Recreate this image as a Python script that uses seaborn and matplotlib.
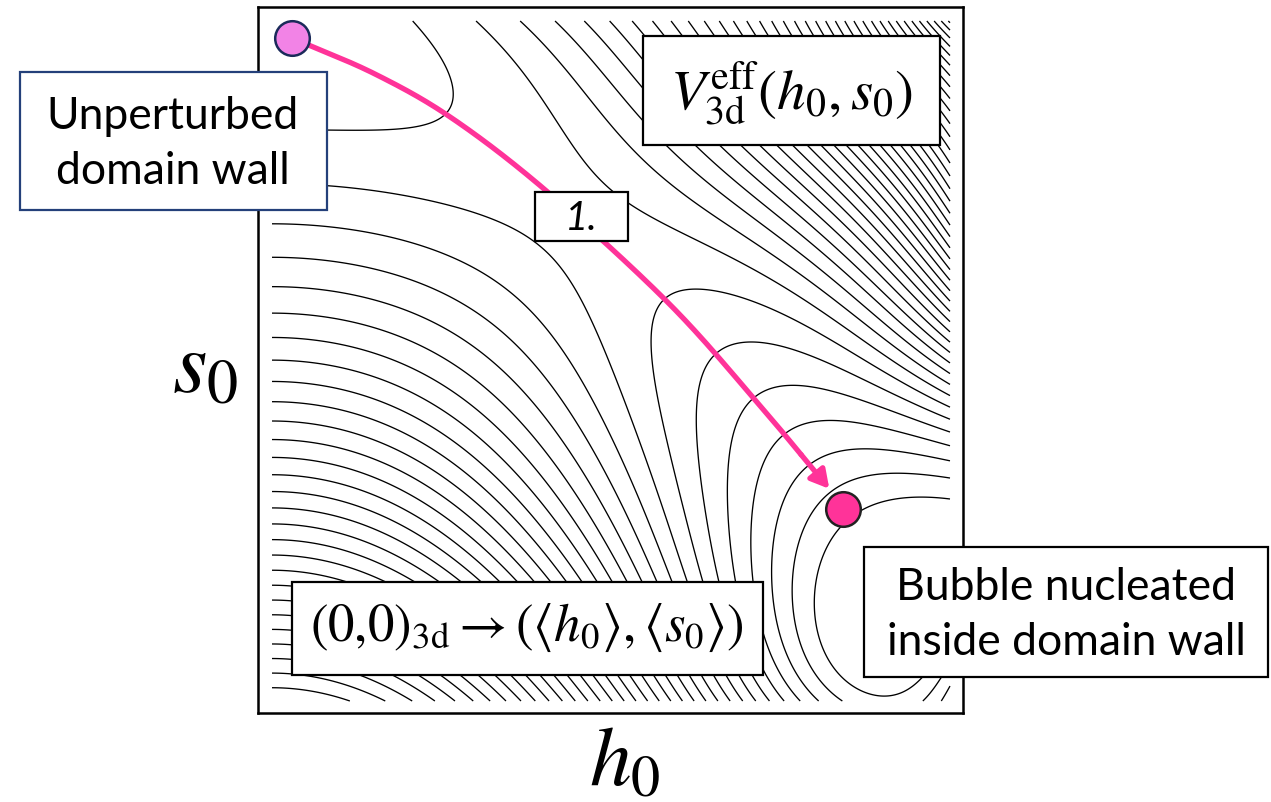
import numpy as np
import pandas as pd
import matplotlib
matplotlib.use("Agg")
import matplotlib.pyplot as plt
import seaborn as sns
from matplotlib.patches import Rectangle

# ---------------- data (plot units: h0, s0 in 0..1) ----------------
# contour level crossings on the left edge (h0 = 0)
left_levels = list(range(0, 29))
left_s = [0.829, 0.753, 0.701, 0.653, 0.612, 0.572, 0.537, 0.504, 0.472, 0.441,
          0.413, 0.387, 0.359, 0.332, 0.307, 0.282, 0.259, 0.235, 0.213, 0.191,
          0.169, 0.147, 0.126, 0.106, 0.085, 0.065, 0.046, 0.026, 0.006]
# crossings on the top edge (s0 = 1)
top_levels = list(range(0, 36))
top_h = [0.236, 0.320, 0.381, 0.428, 0.469, 0.503, 0.535, 0.565, 0.590, 0.614,
         0.636, 0.656, 0.677, 0.696, 0.715, 0.733, 0.751, 0.767, 0.783, 0.799,
         0.816, 0.830, 0.845, 0.860, 0.873, 0.886, 0.900, 0.912, 0.923, 0.935,
         0.947, 0.957, 0.968, 0.978, 0.988, 0.997]
# crossings on the right edge (h0 = 1)
right_levels = list(range(-6, 36)) + [-7.4, -3.0]
right_s = [0.272, 0.322, 0.351, 0.375, 0.397, 0.418, 0.437, 0.454, 0.471, 0.485,
           0.500, 0.515, 0.529, 0.543, 0.557, 0.572, 0.587, 0.601, 0.616, 0.628,
           0.643, 0.654, 0.676, 0.699, 0.719, 0.740, 0.760, 0.779, 0.799, 0.818,
           0.835, 0.853, 0.871, 0.885, 0.900, 0.916, 0.931, 0.944, 0.957, 0.971,
           0.985, 0.996, 0.150, 0.000]
# crossings on the bottom edge (s0 = 0)
bottom_levels = list(range(28, -8, -1)) + [-7.5, -7, -6, -5, -4, -3]
bottom_h = [0.072, 0.137, 0.181, 0.215, 0.243, 0.268, 0.292, 0.314, 0.336, 0.357,
            0.378, 0.398, 0.419, 0.438, 0.457, 0.476, 0.496, 0.515, 0.534, 0.553,
            0.572, 0.591, 0.611, 0.630, 0.649, 0.668, 0.687, 0.706, 0.727, 0.749,
            0.771, 0.794, 0.816, 0.838, 0.860, 0.878, 0.888, 0.900, 0.922, 0.945,
            0.968, 0.996]
# interior points on contours (closed contour round the wall, saddle, arches)
inner_h = [0.0, 0.0, 0.0, 0.12, 0.10,
           0.258, 0.271, 0.273, 0.258, 0.218, 0.159, 0.086,
           0.612, 0.584, 0.566, 0.562, 0.568, 0.580, 0.597, 0.617, 0.661, 0.749, 0.853,
           0.385, 0.465, 0.532, 0.631, 0.779,
           0.189, 0.336, 0.425, 0.484, 0.543, 0.606,
           0.690, 0.730, 0.798, 0.827, 0.878, 0.830, 0.897, 0.447]
inner_s = [0.975, 1.0, 0.92, 0.97, 0.90,
           0.951, 0.907, 0.878, 0.856, 0.840, 0.832, 0.829,
           0.599, 0.588, 0.559, 0.518, 0.444, 0.371, 0.297, 0.224, 0.596, 0.565, 0.518,
           0.871, 0.782, 0.734, 0.672, 0.601,
           0.738, 0.697, 0.628, 0.537, 0.385, 0.224,
           0.518, 0.456, 0.410, 0.366, 0.326, 0.253, 0.290, 0.694]
inner_levels = [-0.5, -0.5, -0.4, -0.4, -0.3,
                0, 0, 0, 0, 0, 0, 0,
                0, 0, 0, 0, 0, 0, 0, 0, 0, 0, 0,
                1, 1, 1, 1, 1,
                1, 1, 1, 1, 1, 1,
                -1, -2, -3, -4, -5, -6, -6, 0.5]

# tunnelling path and the two marked field points
path_h = [0.0295, 0.152, 0.267, 0.406, 0.583, 0.715, 0.822]
path_s = [0.975, 0.922, 0.856, 0.749, 0.587, 0.440, 0.312]
wall_point = (0.0295, 0.975)
bubble_point = (0.842, 0.282)

contour_levels = np.arange(-6, 46)

# ---------------- smooth potential surface through the read contour crossings ----------------
pts = pd.DataFrame({
    "h": np.r_[np.zeros(len(left_s)), top_h, np.ones(len(right_s)), bottom_h, inner_h],
    "s": np.r_[left_s, np.ones(len(top_h)), right_s, np.zeros(len(bottom_h)), inner_s],
    "V": np.r_[left_levels, top_levels, right_levels, bottom_levels, inner_levels],
})


def basis(h, s):
    cols = []
    for i in range(4):
        for j in range(6):
            cols.append(h ** (2 * i) * s ** j)
    return np.stack(cols, -1)


coef, *_ = np.linalg.lstsq(basis(pts.h.values, pts.s.values), pts.V.values, rcond=None)
g = np.linspace(0, 1, 500)
hh, ss = np.meshgrid(g, g)
V = basis(hh, ss) @ coef


def smooth_path(xs, ys, n=40):
    P = np.column_stack([xs, ys])
    out = []
    for i in range(len(P) - 1):
        p0 = P[i - 1] if i > 0 else 2 * P[i] - P[i + 1]
        p1, p2 = P[i], P[i + 1]
        p3 = P[i + 2] if i + 2 < len(P) else 2 * P[i + 1] - P[i]
        for t in np.linspace(0, 1, n, endpoint=False):
            t2, t3 = t * t, t * t * t
            out.append(0.5 * ((2 * p1) + (-p0 + p2) * t + (2 * p0 - 5 * p1 + 4 * p2 - p3) * t2
                              + (-p0 + 3 * p1 - 3 * p2 + p3) * t3))
    out.append(P[-1])
    return np.array(out)


# ---------------- figure ----------------
sns.set_theme(style="white")
plt.rcParams["mathtext.fontset"] = "stix"
plt.rcParams["font.family"] = ["Lato", "DejaVu Sans"]
plt.rcParams["text.color"] = "black"

W, Hpx = 1271, 803
fig = plt.figure(figsize=(W / 100, Hpx / 100), dpi=100)
fig.patch.set_facecolor("white")

ax = fig.add_axes([258 / W, 1 - 714 / Hpx, 705 / W, 706 / Hpx])
ax.contour(hh, ss, V, levels=contour_levels, colors="black", linewidths=0.95,
           linestyles="solid")
ax.set_xlim(-14 / 678, 691 / 678)
ax.set_ylim(-12 / 680, 694 / 680)
ax.set_xticks([])
ax.set_yticks([])
for sp in ax.spines.values():
    sp.set_color("black")
    sp.set_linewidth(1.8)

pink = "#FF3399"
curve = smooth_path(path_h, path_s)
k = len(curve) - 16
sns.lineplot(x=curve[:k, 0], y=curve[:k, 1], sort=False, estimator=None, ax=ax,
             color=pink, linewidth=3.8, zorder=4)
ax.annotate("", xy=tuple(curve[-1]), xytext=tuple(curve[k - 1]),
            arrowprops=dict(arrowstyle="-|>,head_length=0.9,head_width=0.5",
                            color=pink, lw=3.8, shrinkA=0, shrinkB=0), zorder=4)
sns.scatterplot(x=[wall_point[0]], y=[wall_point[1]], ax=ax, s=620, color="#F283E6",
                edgecolor="#1B2A5A", linewidth=1.8, zorder=6, clip_on=False, legend=False)
sns.scatterplot(x=[bubble_point[0]], y=[bubble_point[1]], ax=ax, s=620, color=pink,
                edgecolor="#222222", linewidth=1.8, zorder=6, clip_on=False, legend=False)
ax.set_xlabel("")
ax.set_ylabel("")

# overlay in pixel units for the annotation boxes
ov = fig.add_axes([0, 0, 1, 1], zorder=5)
ov.set_xlim(0, W)
ov.set_ylim(Hpx, 0)
ov.axis("off")
ov.patch.set_alpha(0)


def box(x0, y0, x1, y1, ec="black"):
    ov.add_patch(Rectangle((x0, y0), x1 - x0, y1 - y0, facecolor="white",
                           edgecolor=ec, linewidth=1.6, zorder=5))


box(20, 73, 327, 211, ec="#24407A")
ov.text(173, 144, "Unperturbed\ndomain wall", ha="center", va="center",
        fontsize=32, linespacing=1.45, color="black", zorder=6)

box(643, 37, 940, 146)
ov.text(791, 94, r"$V_{3\mathrm{d}}^{\mathrm{eff}}(h_0, s_0)$", ha="center", va="center",
        fontsize=41, color="black", zorder=6)

box(535, 193, 628, 242)
ov.text(581, 218, "1.", ha="center", va="center", fontsize=29, style="italic",
        color="black", zorder=6)

box(292, 583, 763, 676)
ov.text(527, 628, r"$(0{,}0)_{3\mathrm{d}} \rightarrow (\langle h_0\rangle, \langle s_0\rangle)$",
        ha="center", va="center", fontsize=38, color="black", zorder=6)

box(864, 548, 1268, 678)
ov.text(1066, 615, "Bubble nucleated\ninside domain wall", ha="center", va="center",
        fontsize=32, linespacing=1.43, color="black", zorder=6)

ov.text(205, 368, r"$s_0$", ha="center", va="center", fontsize=64, color="black", zorder=6)
ov.text(625, 762, r"$h_0$", ha="center", va="center", fontsize=60, color="black", zorder=6)

fig.savefig("out.png", dpi=100, facecolor="white")
